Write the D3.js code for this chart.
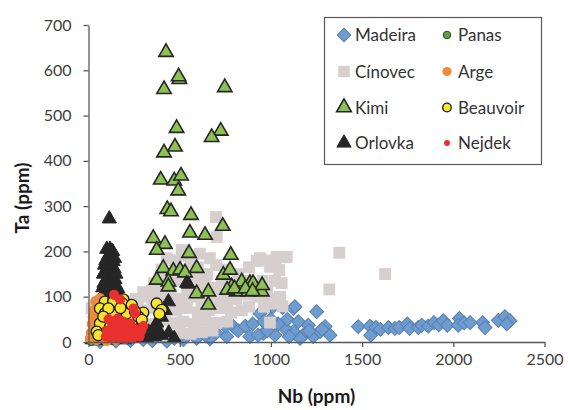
<!DOCTYPE html>
<html>
<head>
<meta charset="utf-8">
<script src="https://cdn.jsdelivr.net/npm/d3@7"></script>
<style>
  html, body { margin: 0; padding: 0; background: #fff; }
  svg { display: block; }
  text { font-family: Lato, "Open Sans", sans-serif; }
</style>
</head>
<body>
<svg id="chart" width="568" height="410"></svg>
<script>
// Nb vs Ta (ppm) for several granite localities: [Nb, Ta]
const madeira = [
  [1479,34],[1543,35],[1547,15],[1576,32],[1600,28],[1644,32],[1680,30],[1704,32],[1748,40],[1760,30],
  [1808,32],[1827,37],[1863,35],[1894,43],[1920,38],[1945,47],[1967,37],[2033,52],[2027,37],[2060,42],
  [2092,43],[2161,43],[2174,32],[2247,48],[2283,56],[2311,47],[2293,40],
  [1251,67],[1123,74],[1132,78],[995,78],[1297,34],[1324,15],[1205,37],[1187,19],[1123,23],[1077,30],
  [1022,15],[958,19],[1232,12],[1160,8],[1269,23],[1011,78],[1064,76],[940,63],[1090,50],[1040,40],
  [1150,45],[1210,25],[1280,28],[1100,12],
  [794,34],[885,12],[930,15],[980,25],[758,12],[700,20],[666,7],[593,8],[520,5],[429,2],[350,3],
  [63,1],[150,2],[820,25],[860,35],[900,40],[750,35],[640,15],[470,8],[300,5],[230,3],[1000,50],[960,45]
];
const cinovec = [
  [699,276],[703,232],[511,203],[429,185],[666,185],[940,185],[1032,188],[1072,187],[1375,197],[968,180],[922,179],
  [1046,159],[1022,135],[955,135],[1320,116],[1626,150],[1064,79],[962,78],[995,43],[995,166],[1087,188],
  [1022,170],[1059,130],[1013,85],
  [520,190],[560,175],[470,180],[610,195],
  [400,160],[460,150],[520,160],[600,165],[650,150],[700,170],[760,160],[820,150],[880,165],[430,145],[580,145],
  [360,130],[420,125],[480,135],[540,120],[610,130],[670,120],[730,135],[800,125],[860,135],[920,120],[980,110],
  [390,115],[450,112],[510,140],[570,110],[640,140],[700,110],
  [330,100],[390,95],[450,105],[510,95],[570,100],[630,105],[690,95],[750,100],[810,95],[870,105],[930,100],[990,95],[1050,100],
  [300,70],[360,75],[420,65],[480,70],[540,75],[600,65],[660,70],[720,75],[780,65],[840,70],[880,78],
  [270,88],[350,88],[480,85],[620,85],[760,82],
  [280,45],[340,40],[400,48],[460,42],[520,45],[580,40],[640,48],[700,42],[760,45],
  [250,20],[320,18],[380,22],[440,15],[500,20],[560,18],[620,22],[680,25],
  [17,75],[40,80],[80,80],[120,70],[170,60],[220,55],[60,30],[150,35],[200,90],[260,95],[300,110],[350,115]
];
const kimi = [
  [425,640],[498,580],[494,586],[414,558],[747,562],[483,472],[725,466],[675,452],[474,431],[414,418],
  [396,358],[470,356],[507,367],[492,334],[432,293],[452,288],[562,280],[736,256],[556,241],[639,236],
  [355,229],[419,216],[374,203],[551,196],[780,192],[410,163],[465,157],[502,159],[529,153],[593,163],
  [374,137],[438,133],[438,122],[739,148],[776,159],[785,122],[812,111],[840,133],[885,130],[913,122],
  [950,111],[876,111],[593,107],[657,111],[657,82],[902,130],[952,125],[760,115],[800,118],[860,118],[900,112]
];
const orlovka = [
  [114,272],
  [100,205],[118,205],[132,200],[108,190],[125,188],[95,180],[115,175],[135,178],[105,165],[122,160],
  [140,162],[90,155],[112,150],[130,148],[100,140],[118,135],[145,138],[85,130],[108,125],[128,122],
  [150,125],[95,115],[115,110],[138,112],[80,105],[102,100],[125,98],[160,102],[90,92],[145,90],
  [82,150],[150,150],[78,120],[160,118],[70,98],[172,100],[88,170],[142,185],
  [170,85],[70,80],[185,75],[60,65],[200,60],[55,50],[215,50],[45,38],[230,40],[250,32],[270,30],
  [300,25],[330,22],[360,30],[374,42],[400,55],[420,70],[438,89],[538,130],[547,128],
  [35,25],[25,12],[20,5],[40,3],[80,5],[120,4],[160,6],[200,5],[240,8],[280,10],[320,8],[360,12],
  [400,15],[440,20],[470,8],[60,20],[100,15],[140,15],[180,18],[220,20],[260,18],[300,15],[340,18],[380,25]
];
const panas = [[10,5],[20,10],[30,3],[40,12],[15,2],[50,5]];
const arge = [
  [63,96],[40,90],[30,70],[50,55],[20,40],[35,30],[15,20],[60,20],[10,8],[45,5],[80,10],[100,3],
  [150,5],[200,8],[260,19],[244,30],[70,45],[25,55]
];
const beauvoir = [
  [90,89],[136,93],[191,94],[209,78],[246,72],[300,65],[374,85],[401,71],[392,60],[63,74],[90,63],
  [136,60],[100,45],[237,45],[273,56],[292,49],[63,41],[45,23],[209,63],[136,89],[187,85],[237,82],
  [109,74],[81,56],[155,45],[54,15],[160,30],[120,35],[200,25],[255,67],[388,62],[175,75]
];
const nejdek = [
  [140,104],[173,94],[246,74],[255,63],
  [110,50],[150,48],[190,45],[230,40],[130,35],[170,32],[210,28],[250,30],[100,25],[140,20],[180,18],
  [220,15],[260,18],[290,25],[120,10],[160,8],[200,6],[240,8],[95,12],[280,12],[300,35],[200,38],[160,52]
];

const xTicks = [0, 500, 1000, 1500, 2000, 2500];
const yTicks = [0, 100, 200, 300, 400, 500, 600, 700];

const svg = d3.select("#chart");
const W = 568, H = 410;
const margin = { left: 88.5, right: 23.5, top: 25, bottom: 68 };

const x = d3.scaleLinear().domain([0, 2500]).range([margin.left, W - margin.right]);
const y = d3.scaleLinear().domain([0, 700]).range([H - margin.bottom, margin.top]);

// Series styling, drawn in this order (later on top)
const series = [
  { name: "Madeira",  data: madeira,  shape: "diamond",  size: 96,  fill: "#6f9ccf", stroke: "#5581b6", sw: 1 },
  { name: "Cínovec",  data: cinovec,  shape: "square",   size: 140, fill: "#d6cfcd", stroke: "none",    sw: 0 },
  { name: "Kimi",     data: kimi,     shape: "triangle", size: 90,  fill: "#8dc153", stroke: "#262626", sw: 1.6 },
  { name: "Orlovka",  data: orlovka,  shape: "triangle", size: 88,  fill: "#262626", stroke: "#262626", sw: 1 },
  { name: "Panas",    data: panas,    shape: "circle",   size: 60,  fill: "#5aa447", stroke: "#2b4a22", sw: 1 },
  { name: "Arge",     data: arge,     shape: "circle",   size: 95,  fill: "#ef8a3a", stroke: "none",    sw: 0 },
  { name: "Beauvoir", data: beauvoir, shape: "circle",   size: 96,  fill: "#f6e52c", stroke: "#1a1a1a", sw: 1.3 },
  { name: "Nejdek",   data: nejdek,   shape: "circle",   size: 80,  fill: "#e8312f", stroke: "none",    sw: 0 }
];

const symType = { diamond: d3.symbolSquare, square: d3.symbolSquare, triangle: d3.symbolTriangle, circle: d3.symbolCircle };

function marker(sel, s, scale) {
  const sz = s.size * (scale || 1);
  sel.attr("d", d3.symbol().type(symType[s.shape]).size(sz)())
     .attr("fill", s.fill)
     .attr("stroke", s.stroke)
     .attr("stroke-width", s.sw)
     .attr("stroke-linejoin", "miter");
}

const plot = svg.append("g");
series.forEach(s => {
  plot.append("g").selectAll("path").data(s.data).join("path")
    .call(marker, s)
    .attr("transform", d => `translate(${x(d[0])},${y(d[1])})` + (s.shape === "diamond" ? " rotate(45)" : ""));
});

// Axes
const axisColor = "#595959";
const textColor = "#404040";

const xAxis = svg.append("g").attr("transform", `translate(0,${y(0)})`)
  .call(d3.axisBottom(x).tickValues(xTicks).tickFormat(d3.format("d")).tickSize(5).tickSizeOuter(0).tickPadding(7));
const yAxis = svg.append("g").attr("transform", `translate(${x(0)},0)`)
  .call(d3.axisLeft(y).tickValues(yTicks).tickFormat(d3.format("d")).tickSize(5).tickSizeOuter(0).tickPadding(12));

[xAxis, yAxis].forEach(g => {
  g.select(".domain").attr("stroke", axisColor).attr("stroke-width", 1.3);
  g.selectAll(".tick line").attr("stroke", axisColor).attr("stroke-width", 1.3);
  g.selectAll(".tick text").attr("fill", textColor).style("font-size", "16px").style("font-family", "Lato, sans-serif");
});

// Axis titles
svg.append("text")
  .attr("x", x(1250)).attr("y", 403)
  .attr("text-anchor", "middle")
  .attr("fill", "#1a1a1a").style("font-size", "19px").style("font-weight", "bold")
  .text("Nb (ppm)");
svg.append("text")
  .attr("transform", `translate(29,198) rotate(-90)`)
  .attr("text-anchor", "middle")
  .attr("fill", "#1a1a1a").style("font-size", "19px").style("font-weight", "bold")
  .text("Ta (ppm)");

// Legend
const legend = svg.append("g");
legend.append("rect")
  .attr("x", 324.5).attr("y", 17.5).attr("width", 217).attr("height", 147)
  .attr("fill", "#fff").attr("stroke", "#595959").attr("stroke-width", 1.2);

const legendScale = { Madeira: 0.95, "Cínovec": 0.95, Kimi: 1.05, Orlovka: 1.0, Panas: 0.75, Arge: 0.7, Beauvoir: 0.6, Nejdek: 0.35 };
const legendOrder = [["Madeira", "Panas"], ["Cínovec", "Arge"], ["Kimi", "Beauvoir"], ["Orlovka", "Nejdek"]];
const rowY = [35, 71.5, 107.5, 143];
const colX = [344, 447];

legendOrder.forEach((row, ri) => {
  row.forEach((name, ci) => {
    const s = series.find(d => d.name === name);
    legend.append("path")
      .call(marker, s, legendScale[name])
      .attr("transform", `translate(${colX[ci]},${rowY[ri]})` + (s.shape === "diamond" ? " rotate(45)" : ""));
    legend.append("text")
      .attr("x", colX[ci] + 11).attr("y", rowY[ri] + 6)
      .attr("fill", "#333").style("font-size", "17px")
      .text(name);
  });
});
</script>
</body>
</html>
